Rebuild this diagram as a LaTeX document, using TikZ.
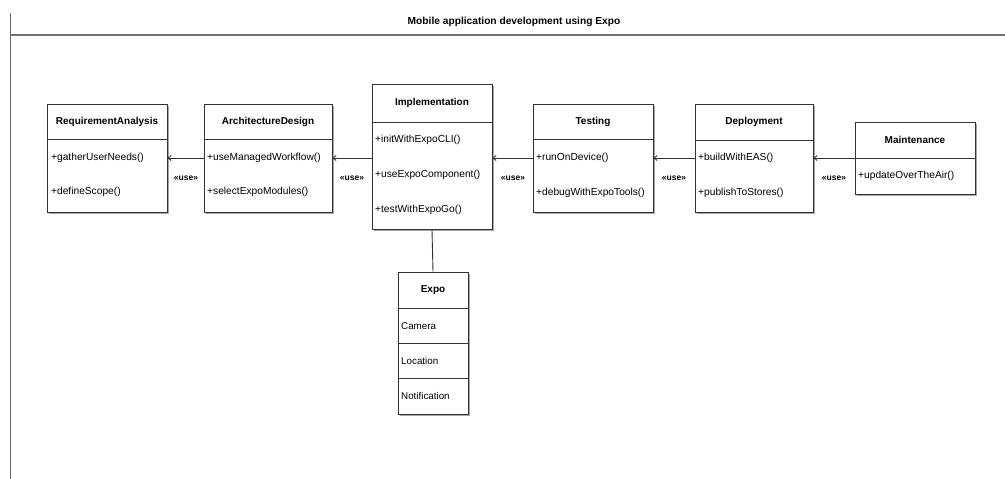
\documentclass[tikz,border=0pt]{standalone}
\usepackage{fontspec}
\setmainfont{Liberation Sans}
\usetikzlibrary{arrows.meta,shadows}
\begin{document}
\begin{tikzpicture}[x=1pt,y=-1pt,
  cls/.style={draw=black!80, line width=0.9pt, fill=white, inner sep=0pt,
    drop shadow={shadow xshift=1.5pt, shadow yshift=-1.5pt, fill=black!35, opacity=1}},
  hdr/.style={font=\fontsize{10}{12}\selectfont\bfseries, inner sep=0pt},
  mth/.style={font=\fontsize{10.2}{12}\selectfont, anchor=west, inner sep=0pt},
  div/.style={draw=black!80, line width=0.9pt},
  dep/.style={draw=black!80, line width=0.9pt, -{Straight Barb[length=3pt,width=5pt]}},
  lbl/.style={font=\fontsize{8.5}{10}\selectfont\bfseries, inner sep=0pt},
  frame/.style={draw=black!60, line width=1pt}
]
\useasboundingbox (0,0) rectangle (1005,479);

% frame
\coordinate (ftop) at (10,13);
\coordinate (fbot) at (10,479);
\coordinate (hl) at (10,35);
\coordinate (hr) at (1005,35);
\draw[frame] (ftop) -- (fbot);
\draw[draw=black!55, line width=1.8pt] (hl) -- (hr);
\node[font=\fontsize{10.2}{12}\selectfont\bfseries] (title) at (514,22) {Mobile application development using Expo};

% Requirement Analysis
\node[cls, minimum width=120pt, minimum height=108pt] (ra) at (107,158) {};
\draw[div] (47,139) -- (167,139);
\node[hdr] (raH) at (107,122) {RequirementAnalysis};
\node[mth] (ra1) at (51,158) {+gatherUserNeeds()};
\node[mth] (ra2) at (51,192) {+defineScope()};

% Architecture Design
\node[cls, minimum width=128pt, minimum height=108pt] (ad) at (268,158) {};
\draw[div] (204,139) -- (332,139);
\node[hdr] (adH) at (268,122) {ArchitectureDesign};
\node[mth] (ad1) at (207,158) {+useManagedWorkflow()};
\node[mth] (ad2) at (207,192) {+selectExpoModules()};

% Implementation
\node[cls, minimum width=120pt, minimum height=145pt] (im) at (432,157) {};
\draw[div] (372,122) -- (492,122);
\node[hdr] (imH) at (432,103) {Implementation};
\node[mth] (im1) at (375,140) {+initWithExpoCLI()};
\node[mth] (im2) at (375,175) {+useExpoComponent()};
\node[mth] (im3) at (375,210) {+testWithExpoGo()};

% Testing
\node[cls, minimum width=120pt, minimum height=108pt] (te) at (593,158) {};
\draw[div] (533,139) -- (653,139);
\node[hdr] (teH) at (593,122) {Testing};
\node[mth] (te1) at (536,158) {+runOnDevice()};
\node[mth] (te2) at (536,193) {+debugWithExpoTools()};

% Deployment
\node[cls, minimum width=118pt, minimum height=108pt] (de) at (754,158) {};
\draw[div] (695,140) -- (813,140);
\node[hdr] (deH) at (754,122) {Deployment};
\node[mth] (de1) at (698,158) {+buildWithEAS()};
\node[mth] (de2) at (698,193) {+publishToStores()};

% Maintenance
\node[cls, minimum width=120pt, minimum height=72pt] (ma) at (915,158) {};
\draw[div] (855,158) -- (975,158);
\node[hdr] (maH) at (915,140) {Maintenance};
\node[mth] (ma1) at (858,176) {+updateOverTheAir()};

% Expo
\node[cls, minimum width=70pt, minimum height=142pt] (ex) at (433,343) {};
\draw[div] (398,308) -- (468,308);
\draw[div] (398,343) -- (468,343);
\draw[div] (398,378) -- (468,378);
\node[hdr] (exH) at (433,290) {Expo};
\node[mth, font=\fontsize{9.8}{11}\selectfont] (ex1) at (401,326) {Camera};
\node[mth, font=\fontsize{9.8}{11}\selectfont] (ex2) at (401,361) {Location};
\node[mth, font=\fontsize{9.8}{11}\selectfont] (ex3) at (401,396) {Notification};

% dependencies
\draw[dep] (ad.west |- 0,158) -- (ra.east |- 0,158);
\node[lbl] (l1) at (186,178) {«use»};
\draw[dep] (im.west |- 0,158) -- (ad.east |- 0,158);
\node[lbl] (l2) at (352,178) {«use»};
\draw[dep] (te.west |- 0,158) -- (im.east |- 0,158);
\node[lbl] (l3) at (513,178) {«use»};
\draw[dep] (de.west |- 0,158) -- (te.east |- 0,158);
\node[lbl] (l4) at (674,178) {«use»};
\draw[dep] (ma.west |- 0,158) -- (de.east |- 0,158);
\node[lbl] (l5) at (834,178) {«use»};

% implementation uses Expo
\draw[div] (im.south) -- (ex.north);
\end{tikzpicture}
\end{document}
